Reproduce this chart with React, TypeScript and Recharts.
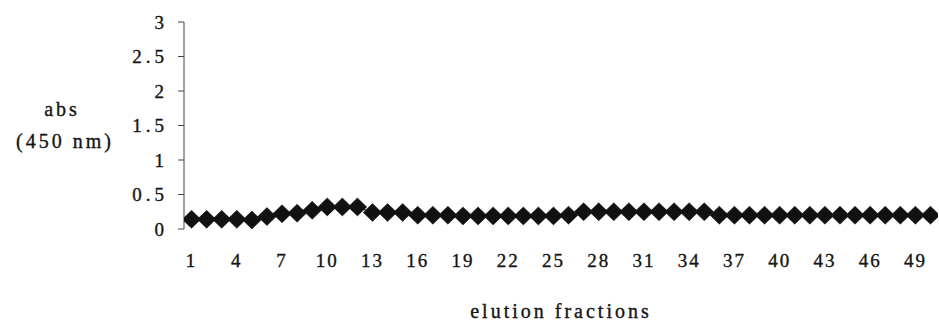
import React from 'react';
import { LineChart, Line, XAxis, YAxis } from 'recharts';

// elution fraction numbers
const fractions: number[] = Array.from({ length: 50 }, (_, i) => i + 1);

// absorbance at 450 nm
const absValues: number[] = [
  0.14, 0.14, 0.14, 0.14, 0.13, 0.18, 0.22, 0.23, 0.27, 0.32,
  0.32, 0.32, 0.24, 0.24, 0.24, 0.2, 0.2, 0.2, 0.19, 0.19,
  0.19, 0.19, 0.19, 0.19, 0.19, 0.2, 0.25, 0.25, 0.25, 0.25,
  0.25, 0.25, 0.25, 0.25, 0.25, 0.2, 0.2, 0.2, 0.2, 0.2,
  0.2, 0.2, 0.2, 0.2, 0.2, 0.2, 0.2, 0.2, 0.2, 0.2,
];

// tick labels on the x axis
const xLabelTicks: number[] = [1, 4, 7, 10, 13, 16, 19, 22, 25, 28, 31, 34, 37, 40, 43, 46, 49];
// tick marks between categories
const xBoundaryTicks: number[] = Array.from({ length: 51 }, (_, i) => i + 0.5);
const yTicks: number[] = [0, 0.5, 1, 1.5, 2, 2.5, 3];

const data = fractions.map((f, i) => ({ x: f, abs: absValues[i] }));

const FONT = 'Liberation Serif, Times New Roman, Times, serif';
const INK = '#141414';
const AXIS = '#444';
const TXT_STROKE = { stroke: INK, strokeWidth: 0.35 };

const Diamond = (props: any) => {
  const { cx, cy, index } = props;
  if (cx == null || cy == null) return <g key={index} />;
  const h = 9;
  const w = 9.3;
  return (
    <path
      key={index}
      d={`M${cx},${cy - h} L${cx + w},${cy} L${cx},${cy + h} L${cx - w},${cy} Z`}
      fill="#111"
      stroke="#111"
      strokeWidth={0.5}
    />
  );
};

const YTitle = () => (
  <text style={{ fontFamily: FONT }} fontSize={20} fill={INK} {...TXT_STROKE} textAnchor="middle" letterSpacing={3}>
    <tspan x={62} y={116}>abs</tspan>
    <tspan x={65} y={148}>(450 nm)</tspan>
  </text>
);

export default function App() {
  return (
    <div style={{ position: 'absolute', left: 0, top: 0, width: 939, height: 322, background: '#fff', fontFamily: FONT }}>
      <LineChart width={939} height={322} data={data} margin={{ top: 22, right: 1, bottom: 0, left: 0 }} style={{ fontFamily: FONT }}>
        <XAxis
          xAxisId="m"
          dataKey="x"
          type="number"
          domain={[0.5, 50.5]}
          allowDataOverflow
          ticks={xBoundaryTicks}
          interval={0}
          tick={false}
          height={0}
          tickSize={5}
          axisLine={{ stroke: AXIS, strokeWidth: 1 }}
          tickLine={{ stroke: AXIS, strokeWidth: 1 }}
        />
        <XAxis
          xAxisId="l"
          dataKey="x"
          type="number"
          domain={[0.5, 50.5]}
          allowDataOverflow
          ticks={xLabelTicks}
          interval={0}
          axisLine={false}
          tickLine={false}
          tickSize={0}
          tickMargin={25}
          height={93}
          tick={{ style: { fontFamily: FONT }, fontSize: 19, fill: INK, ...TXT_STROKE, letterSpacing: 2 }}
          label={{
            value: 'elution fractions',
            position: 'insideBottom',
            offset: 4,
            style: { fontFamily: FONT },
            fontSize: 20,
            fill: INK,
            ...TXT_STROKE,
            letterSpacing: 3,
          }}
        />
        <YAxis
          type="number"
          domain={[0, 3]}
          ticks={yTicks}
          interval={0}
          width={184}
          tickSize={6}
          tickMargin={10}
          axisLine={{ stroke: AXIS, strokeWidth: 1 }}
          tickLine={{ stroke: AXIS, strokeWidth: 1 }}
          tick={{ style: { fontFamily: FONT }, fontSize: 19, fill: INK, ...TXT_STROKE, letterSpacing: 4 }}
          label={<YTitle />}
        />
        <Line
          xAxisId="m"
          dataKey="abs"
          stroke="#111"
          strokeWidth={1}
          dot={<Diamond />}
          activeDot={false}
          isAnimationActive={false}
        />
        <Line
          xAxisId="l"
          dataKey="abs"
          stroke="none"
          dot={false}
          activeDot={false}
          isAnimationActive={false}
          legendType="none"
        />
      </LineChart>
    </div>
  );
}
